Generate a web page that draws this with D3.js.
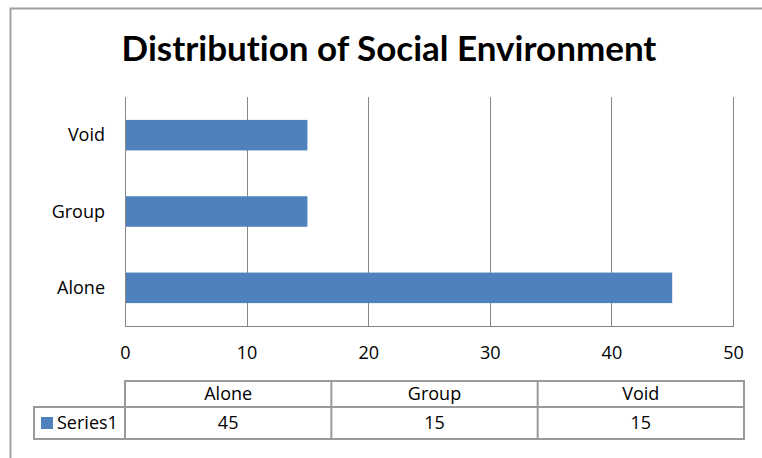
<!DOCTYPE html>
<html>
<head>
<meta charset="utf-8">
<script src="https://cdn.jsdelivr.net/npm/d3@7"></script>
<style>
  html, body { margin: 0; padding: 0; background: #fff; }
  svg { display: block; font-family: "Open Sans", Lato, sans-serif; font-variant-ligatures: none; }
</style>
</head>
<body>
<svg id="chart" width="762" height="458"></svg>
<script>
// Chart data
const categories = ["Alone", "Group", "Void"];
const seriesName = "Series1";
const seriesValues = [45, 15, 15];
const xTicks = [0, 10, 20, 30, 40, 50];
const title = "Distribution of Social Environment";

const svg = d3.select("#chart");
const barColor = "#4F81BD";
const gridColor = "#878787";
const tableColor = "#9a9a9a";
const labelFont = "'Open Sans', Lato, sans-serif";
const labelSize = 18;

// Outer chart frame (top and left edges visible)
svg.append("path")
  .attr("d", "M10.5,762 L10.5,8.5 L762,8.5")
  .attr("fill", "none").attr("stroke", "#a0a0a0").attr("stroke-width", 2);

// Title
svg.append("text")
  .attr("x", 389).attr("y", 61)
  .attr("text-anchor", "middle")
  .attr("font-family", "Lato, 'Open Sans', sans-serif")
  .attr("font-weight", "bold")
  .attr("font-size", 35)
  .style("font-variant-ligatures", "none")
  .style("font-feature-settings", "'liga' 0, 'clig' 0")
  .attr("fill", "#000")
  .text(title);

// Plot area
const plot = { left: 125, right: 733, top: 97, bottom: 326 };
const x = d3.scaleLinear().domain([0, 50]).range([plot.left, plot.right]);
const y = d3.scaleBand().domain(categories.slice().reverse())
  .range([plot.top, plot.bottom]).paddingInner(0.6).paddingOuter(0.3);

// Vertical gridlines
svg.append("g").selectAll("line").data(xTicks).join("line")
  .attr("x1", d => Math.round(x(d)) + 0.5).attr("x2", d => Math.round(x(d)) + 0.5)
  .attr("y1", plot.top).attr("y2", plot.bottom)
  .attr("stroke", gridColor).attr("stroke-width", 1);

// Bottom edge of plot
svg.append("line")
  .attr("x1", plot.left).attr("x2", plot.right + 1)
  .attr("y1", plot.bottom + 0.5).attr("y2", plot.bottom + 0.5)
  .attr("stroke", gridColor);

// Bars
svg.append("g").selectAll("rect").data(categories).join("rect")
  .attr("x", x(0) + 1)
  .attr("y", d => y(d))
  .attr("width", (d, i) => x(seriesValues[i]) - x(0) - 1)
  .attr("height", y.bandwidth())
  .attr("fill", barColor);

// Category labels
svg.append("g").selectAll("text").data(categories).join("text")
  .attr("x", 105)
  .attr("y", d => y(d) + y.bandwidth() / 2)
  .attr("dy", "0.35em")
  .attr("text-anchor", "end")
  .attr("font-size", labelSize)
  .attr("fill", "#000")
  .text(d => d);

// Value axis labels
const xAxis = d3.axisBottom(x).tickValues(xTicks).tickSize(0).tickPadding(0);
const axG = svg.append("g").attr("transform", `translate(0,${plot.bottom + 20})`).call(xAxis);
axG.select(".domain").remove();
axG.selectAll("text").attr("font-size", labelSize).attr("font-family", labelFont)
  .attr("fill", "#000").attr("dy", "0.71em");

// Data table below the axis
const table = { left: 125, right: 744, top: 381, mid: 407, bottom: 439, keyLeft: 34 };
const col = d3.scaleBand().domain(categories).range([table.left, table.right]);
const tg = svg.append("g").attr("fill", "none").attr("stroke", tableColor).attr("stroke-width", 2);
tg.append("rect").attr("x", table.left).attr("y", table.top)
  .attr("width", table.right - table.left).attr("height", table.bottom - table.top);
tg.append("rect").attr("x", table.keyLeft).attr("y", table.mid)
  .attr("width", table.left - table.keyLeft).attr("height", table.bottom - table.mid);
tg.append("line").attr("x1", table.left).attr("x2", table.right)
  .attr("y1", table.mid).attr("y2", table.mid);
tg.selectAll("line.sep").data(categories.slice(1)).join("line").attr("class", "sep")
  .attr("x1", d => col(d)).attr("x2", d => col(d))
  .attr("y1", table.top).attr("y2", table.bottom);

// Header row
svg.append("g").selectAll("text").data(categories).join("text")
  .attr("x", d => col(d) + col.bandwidth() / 2)
  .attr("y", (table.top + table.mid) / 2)
  .attr("dy", "0.35em").attr("text-anchor", "middle")
  .attr("font-size", labelSize).attr("fill", "#000")
  .text(d => d);

// Value row
svg.append("g").selectAll("text").data(categories).join("text")
  .attr("x", d => col(d) + col.bandwidth() / 2)
  .attr("y", (table.mid + table.bottom) / 2)
  .attr("dy", "0.35em").attr("text-anchor", "middle")
  .attr("font-size", labelSize).attr("fill", "#000")
  .text((d, i) => seriesValues[i]);

// Legend key and series name
svg.append("rect").attr("x", 41).attr("y", 417).attr("width", 12).attr("height", 12).attr("fill", barColor);
svg.append("text").attr("x", 57).attr("y", (table.mid + table.bottom) / 2)
  .attr("dy", "0.35em").attr("font-size", labelSize).attr("fill", "#000").text(seriesName);
</script>
</body>
</html>
